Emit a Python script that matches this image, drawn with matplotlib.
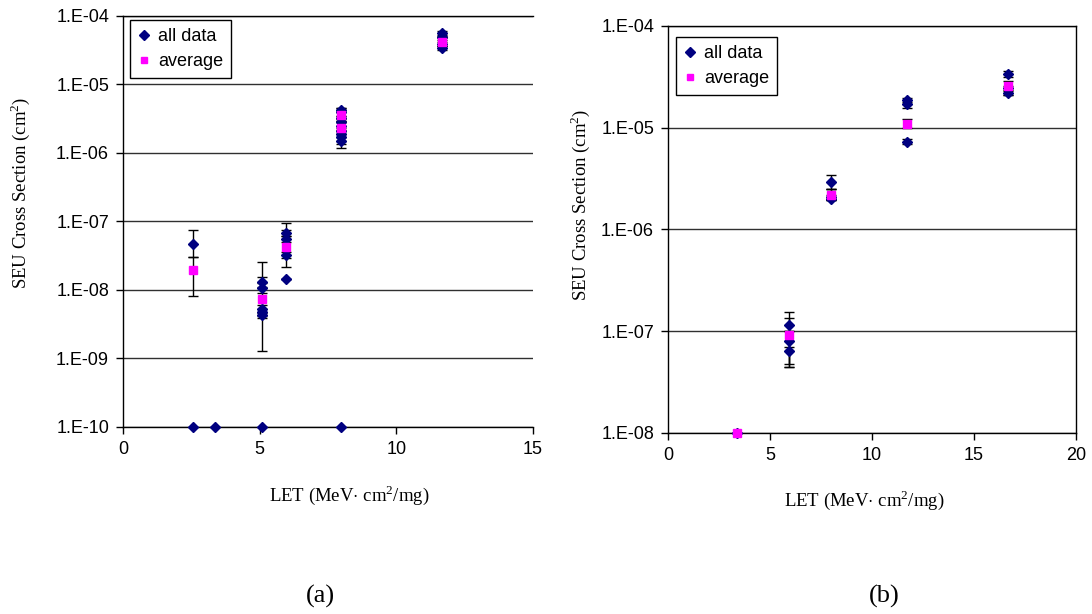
import matplotlib
matplotlib.use("Agg")
import matplotlib.pyplot as plt
from matplotlib.ticker import FixedLocator, FuncFormatter, NullLocator

plt.rcParams['font.family'] = ['Liberation Sans', 'DejaVu Sans']
plt.rcParams['mathtext.fontset'] = 'custom'
plt.rcParams['mathtext.rm'] = 'Liberation Serif'

# ---- chart (a) ----
a_all_x = [2.55, 5.07, 5.07, 5.07, 5.07, 5.07, 5.95, 5.95, 5.95, 5.95,
           7.96, 7.96, 7.96, 7.96, 7.96, 7.96, 7.96, 7.96, 7.96,
           11.68, 11.68, 11.68, 11.68]
a_all_y = [4.7e-8, 1.32e-8, 1.06e-8, 5.2e-9, 4.7e-9, 4.3e-9, 6.9e-8, 5.5e-8, 3.24e-8, 1.44e-8,
           4.3e-6, 3.9e-6, 3.2e-6, 2.8e-6, 2.5e-6, 2.1e-6, 1.9e-6, 1.7e-6, 1.5e-6,
           5.6e-5, 4.9e-5, 3.9e-5, 3.4e-5]
a_all_lo = [3.06e-8, 1.1e-8, 9.0e-9, 4.6e-9, 4.2e-9, 3.9e-9, 6.2e-8, 5.0e-8, 2.9e-8, 1.44e-8,
            3.9e-6, 3.5e-6, 2.9e-6, 2.5e-6, 2.2e-6, 1.9e-6, 1.7e-6, 1.5e-6, 1.35e-6,
            5.1e-5, 4.5e-5, 3.6e-5, 3.2e-5]
a_all_hi = [7.5e-8, 1.56e-8, 1.25e-8, 6.0e-9, 5.3e-9, 4.8e-9, 7.6e-8, 6.1e-8, 3.6e-8, 1.44e-8,
            4.6e-6, 4.3e-6, 3.5e-6, 3.1e-6, 2.8e-6, 2.3e-6, 2.1e-6, 1.9e-6, 1.7e-6,
            6.0e-5, 5.3e-5, 4.2e-5, 3.7e-5]
a_zero_x = [2.55, 3.36, 5.07, 7.96]
a_zero_y = [1e-10, 1e-10, 1e-10, 1e-10]
a_avg_x = [2.55, 5.07, 5.95, 7.96, 7.96, 11.68]
a_avg_y = [1.96e-8, 7.3e-9, 4.3e-8, 3.6e-6, 2.3e-6, 4.2e-5]
a_avg_lo = [8.3e-9, 1.27e-9, 2.19e-8, 2.9e-6, 1.2e-6, 3.7e-5]
a_avg_hi = [3.06e-8, 2.6e-8, 9.4e-8, 4.6e-6, 2.8e-6, 4.8e-5]

# ---- chart (b) ----
b_all_x = [5.95, 5.95, 5.95, 7.99, 7.99, 7.99, 11.73, 11.73, 11.73, 16.68, 16.68, 16.68]
b_all_y = [1.15e-7, 8.0e-8, 6.4e-8, 2.9e-6, 2.1e-6, 2.0e-6, 1.86e-5, 1.7e-5, 7.3e-6,
           3.36e-5, 2.43e-5, 2.2e-5]
b_all_lo = [1.0e-7, 4.8e-8, 4.5e-8, 2.5e-6, 1.94e-6, 1.94e-6, 1.7e-5, 1.55e-5, 6.9e-6,
            3.15e-5, 2.3e-5, 2.1e-5]
b_all_hi = [1.34e-7, 1.0e-7, 7.0e-8, 3.4e-6, 2.5e-6, 2.2e-6, 1.95e-5, 1.8e-5, 7.7e-6,
            3.6e-5, 2.6e-5, 2.35e-5]
b_zero_x = [3.37]
b_zero_y = [1e-8]
b_avg_x = [3.37, 5.95, 7.99, 11.73, 16.68]
b_avg_y = [1e-8, 9.1e-8, 2.17e-6, 1.08e-5, 2.56e-5]
b_avg_lo = [1e-8, 4.5e-8, 1.94e-6, 1.0e-5, 2.1e-5]
b_avg_hi = [1e-8, 1.55e-7, 2.5e-6, 1.23e-5, 2.9e-5]

a_yticks = [1e-10, 1e-9, 1e-8, 1e-7, 1e-6, 1e-5, 1e-4]
b_yticks = [1e-8, 1e-7, 1e-6, 1e-5, 1e-4]
a_xticks = [0, 5, 10, 15]
b_xticks = [0, 5, 10, 15, 20]

navy = '#000080'
magenta = '#FF00FF'


def fmt_exp(v, pos):
    e = int(round(__import__('math').log10(v)))
    return "1.E-%02d" % (-e)


def draw(ax, all_x, all_y, all_lo, all_hi, zx, zy, avg_x, avg_y, avg_lo, avg_hi,
         xticks, yticks, right_spine, leg_anchor):
    ax.set_yscale('log')
    err_all = [[y - lo for y, lo in zip(all_y, all_lo)], [hi - y for y, hi in zip(all_y, all_hi)]]
    err_avg = [[y - lo for y, lo in zip(avg_y, avg_lo)], [hi - y for y, hi in zip(avg_y, avg_hi)]]
    ax.errorbar(all_x, all_y, yerr=err_all, fmt='none', ecolor='black',
                elinewidth=1, capsize=3.5, capthick=1, zorder=2)
    ax.errorbar(avg_x, avg_y, yerr=err_avg, fmt='none', ecolor='black',
                elinewidth=1, capsize=3.5, capthick=1, zorder=2)
    ax.plot(all_x, all_y, linestyle='none', marker='D', markersize=5.5,
            color=navy, label='all data', zorder=3)
    ax.plot(zx, zy, linestyle='none', marker='D', markersize=5.5,
            color=navy, zorder=3, clip_on=False)
    ax.plot(avg_x, avg_y, linestyle='none', marker='s', markersize=5.5,
            color=magenta, label='average', zorder=4, clip_on=False)

    ax.set_xlim(xticks[0], xticks[-1])
    ax.set_ylim(yticks[0], yticks[-1])
    ax.xaxis.set_major_locator(FixedLocator(xticks))
    ax.yaxis.set_major_locator(FixedLocator(yticks))
    ax.yaxis.set_minor_locator(NullLocator())
    ax.yaxis.set_major_formatter(FuncFormatter(fmt_exp))
    ax.tick_params(axis='both', direction='out', length=5, width=1,
                   labelsize=13, pad=5, colors='black')
    ax.grid(axis='y', which='major', color='#303030', linewidth=1)
    ax.set_axisbelow(True)
    for s in ax.spines.values():
        s.set_color('black')
        s.set_linewidth(1)
    ax.spines['right'].set_visible(right_spine)

    leg = ax.legend(loc='upper left', bbox_to_anchor=leg_anchor, borderaxespad=0,
                    fontsize=13, handlelength=0.7, handletextpad=0.4,
                    borderpad=0.45, labelspacing=0.45, fancybox=False,
                    framealpha=1, edgecolor='black', markerscale=0.9)
    leg.get_frame().set_linewidth(1)


fig = plt.figure(figsize=(10.92, 6.14), dpi=100)
ax1 = fig.add_axes([0.1126, 0.3046, 0.3755, 0.6694])
ax2 = fig.add_axes([0.6117, 0.2948, 0.3736, 0.6629])

draw(ax1, a_all_x, a_all_y, a_all_lo, a_all_hi, a_zero_x, a_zero_y,
     a_avg_x, a_avg_y, a_avg_lo, a_avg_hi, a_xticks, a_yticks, False, (0.017, 0.990))
draw(ax2, b_all_x, b_all_y, b_all_lo, b_all_hi, b_zero_x, b_zero_y,
     b_avg_x, b_avg_y, b_avg_lo, b_avg_hi, b_xticks, b_yticks, True, (0.0196, 0.973))

serif = ['Liberation Serif', 'DejaVu Serif']
ylab = 'SEU Cross Section (cm$^2$)'
xlab = 'LET (MeV$\\cdot$ cm$^2$/mg)'
fig.text(0.0183, 0.686, ylab, rotation=90, ha='center', va='center', fontsize=13.5, family=serif)
fig.text(0.531, 0.666, ylab, rotation=90, ha='center', va='center', fontsize=13.5, family=serif)
fig.text(0.3196, 0.1938, xlab, ha='center', va='center', fontsize=13.5, family=serif)
fig.text(0.791, 0.186, xlab, ha='center', va='center', fontsize=13.5, family=serif)
fig.text(0.293, 0.028, '(a)', ha='center', va='center', fontsize=19, family=serif)
fig.text(0.8095, 0.028, '(b)', ha='center', va='center', fontsize=19, family=serif)

fig.savefig('out.png', dpi=100)
